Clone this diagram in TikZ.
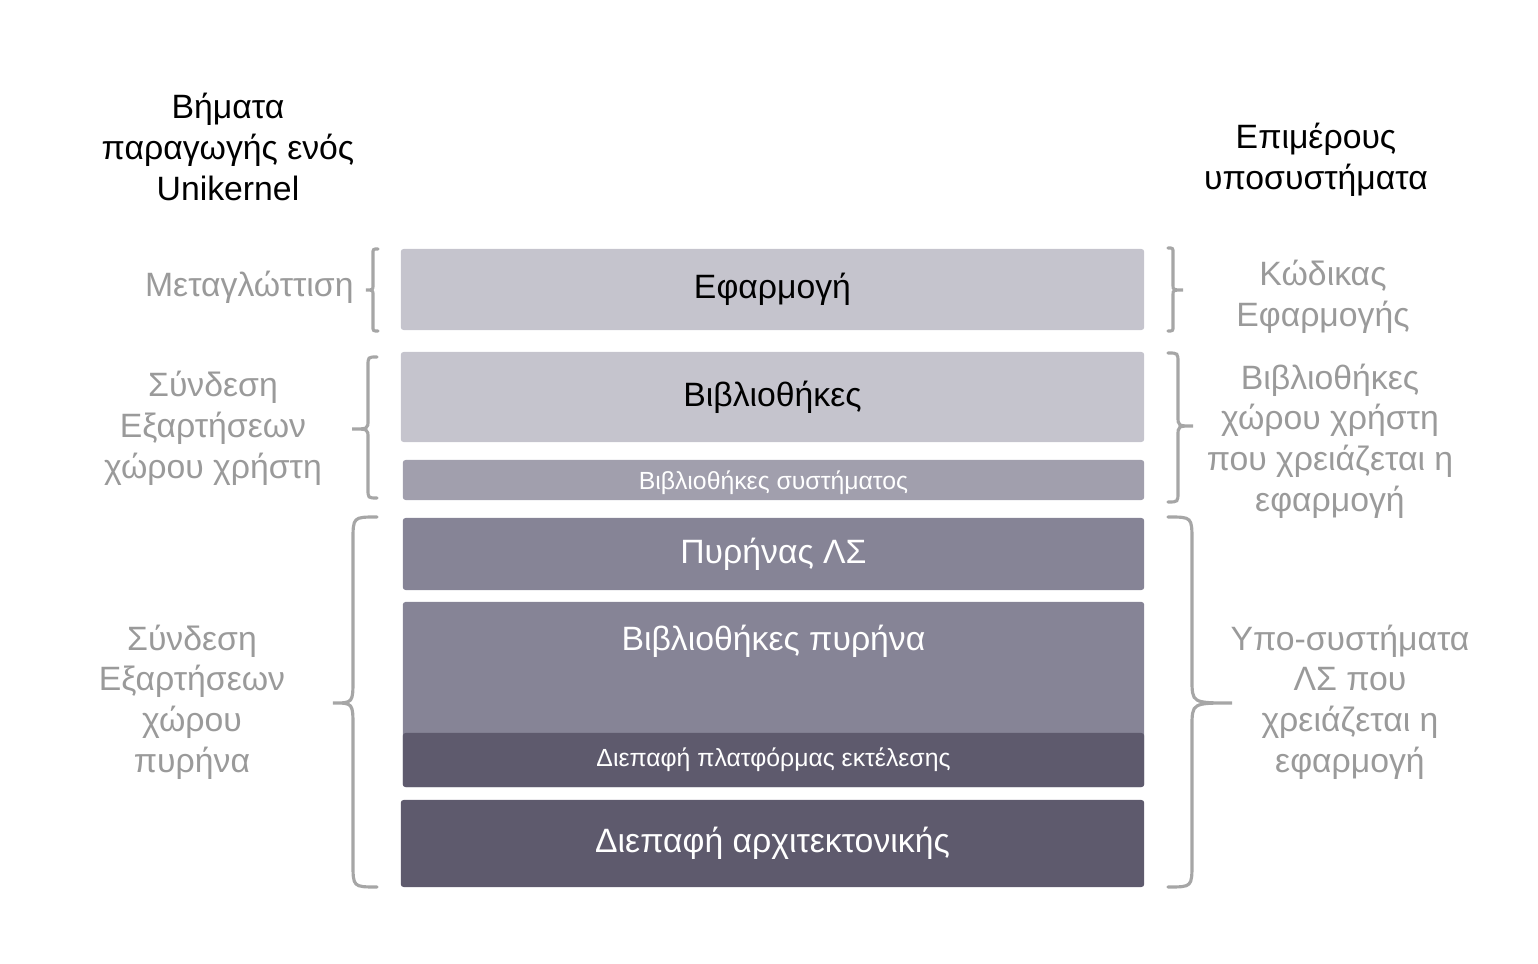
\documentclass[tikz,border=0pt]{standalone}
\usepackage{fontspec}
\setmainfont{Liberation Sans}
\usepackage{tikz}

\definecolor{layerlight}{HTML}{C5C4CD}
\definecolor{layersys}{HTML}{A19FAD}
\definecolor{layerkern}{HTML}{868496}
\definecolor{layerdark}{HTML}{5E5A6D}
\definecolor{labelgrey}{HTML}{9A9A9A}
\definecolor{bracegrey}{HTML}{A6A6A6}

\tikzset{
  layer/.style={rectangle, rounded corners=0.8pt, minimum width=7.43cm, inner sep=0pt},
  bigtext/.style={font=\fontsize{9.6}{11.6}\selectfont, align=center},
  smalltext/.style={font=\fontsize{7.05}{8}\selectfont, text=white},
  steptext/.style={bigtext, text=labelgrey},
  curly/.style={draw=bracegrey, line width=0.9pt, line cap=round}
}

% brace: end x, shaft x, tip x, top y, middle y, bottom y
\newcommand{\curly}[6]{%
  \pgfmathsetmacro{\hookr}{abs(#2-#1)}
  \draw[curly] (#1,#4) .. controls (#2,#4) .. (#2,#4-\hookr) -- (#2,#5+\hookr)
    .. controls (#2,#5) .. (#3,#5) .. controls (#2,#5) .. (#2,#5-\hookr)
    -- (#2,#6+\hookr) .. controls (#2,#6) .. (#1,#6);}

\begin{document}
\begin{tikzpicture}[x=0.01cm, y=0.01cm]
  \useasboundingbox (0,0) rectangle (1538,-964);

  % headings
  \node[bigtext] (steps) at (228,-147) {Βήματα\\παραγωγής ενός\\Unikernel};
  \node[bigtext] (parts) at (1316,-160) {Επιμέρους\\υποσυστήματα};

  % the layers
  \node[layer, fill=layerlight, minimum height=0.81cm, bigtext] (app) at (772.5,-289.5) {Εφαρμογή};
  \node[layer, fill=layerlight, minimum height=0.90cm, bigtext] (libs) at (772.5,-397) {Βιβλιοθήκες};
  \node[layer, fill=layersys, minimum width=7.41cm, minimum height=0.40cm, smalltext, text depth=0pt] (syslibs) at (773.5,-480) {Βιβλιοθήκες συστήματος};
  \node[layer, fill=layerkern, minimum width=7.41cm, minimum height=0.72cm, bigtext, text=white] (kernel) at (773.5,-554) {Πυρήνας ΛΣ};
  \node[layer, fill=layerkern, minimum width=7.41cm, minimum height=1.85cm] (kernlibs) at (773.5,-694.5) {};
  \node[bigtext, text=white] (kernlibstext) at (773.5,-641) {Βιβλιοθήκες πυρήνα};
  \node[layer, fill=layerdark, minimum width=7.41cm, minimum height=0.54cm, smalltext] (platform) at (773.5,-760) {Διεπαφή πλατφόρμας εκτέλεσης};
  \node[layer, fill=layerdark, minimum height=0.87cm, bigtext, text=white] (arch) at (772.5,-843.5) {Διεπαφή αρχιτεκτονικής};

  % left side: build steps
  \node[steptext, anchor=east] (compile) at (366,-287) {Μεταγλώττιση};
  \node[steptext] (userlink) at (213,-428) {Σύνδεση\\Εξαρτήσεων\\χώρου χρήστη};
  \node[steptext] (kernlink) at (192,-702) {Σύνδεση\\Εξαρτήσεων\\χώρου\\πυρήνα};
  \curly{378}{373}{366}{-249}{-290}{-331}
  \curly{377}{368}{352}{-357}{-429}{-498}
  \curly{377}{353}{333}{-517}{-703}{-887}

  % right side: subsystems
  \node[steptext] (appcode) at (1323,-297) {Κώδικας\\Εφαρμογής};
  \node[steptext] (userlibs) at (1330,-441) {Βιβλιοθήκες\\χώρου χρήστη\\που χρειάζεται η\\εφαρμογή};
  \node[steptext] (ossubs) at (1350,-702) {Υπο-συστήματα\\ΛΣ που\\χρειάζεται η\\εφαρμογή};
  \curly{1168}{1173}{1183}{-248}{-290}{-331}
  \curly{1168}{1178}{1193}{-353}{-426}{-502}
  \curly{1168}{1192}{1232}{-517}{-703}{-887}
\end{tikzpicture}
\end{document}
